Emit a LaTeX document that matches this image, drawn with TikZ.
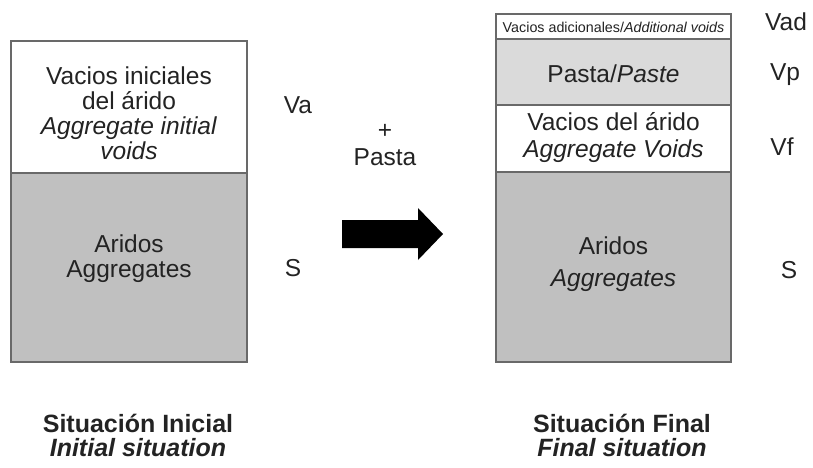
\documentclass[tikz,border=0pt]{standalone}
\usepackage{fontspec}
\setmainfont{Liberation Sans}
\definecolor{boxgray}{RGB}{192,192,192}
\definecolor{pastegray}{RGB}{218,218,218}
\definecolor{framegray}{RGB}{105,105,105}
\definecolor{txtgray}{RGB}{35,35,35}
\begin{document}
\begin{tikzpicture}[x=1pt, y=-1pt,
	every node/.style={text=txtgray, align=center, font=\fontsize{24.5}{25}\selectfont},
	layer/.style={draw=framegray, line width=1.6pt},
	title/.style={font=\fontsize{25}{24}\selectfont\bfseries}]
		\useasboundingbox (0,0) rectangle (813,468);

		% situacion inicial
		\draw[layer, fill=white] (11,41) rectangle (247,173);
		\draw[layer, fill=boxgray] (11,173) rectangle (247,362);
		\node (vacios) at (129,113) {Vacios iniciales\\del árido\\\textit{Aggregate initial}\\\textit{voids}};
		\node (aridos) at (129,259) {Aridos\\Aggregates};
		\node (va) at (298,105) {Va};
		\node (sini) at (293,268) {S};

		% flecha
		\node (plus) at (385,131) {+};
		\node (pasta) at (385,157) {Pasta};
		\fill[black] (342,220) -- (418,220) -- (418,208) -- (443,234) -- (418,260) -- (418,248) -- (342,248) -- cycle;

		% situacion final
		\draw[layer, fill=white] (496,14) rectangle (731,39);
		\draw[layer, fill=pastegray] (496,39) rectangle (731,105);
		\draw[layer, fill=white] (496,105) rectangle (731,172);
		\draw[layer, fill=boxgray] (496,172) rectangle (731,362);
		\node[font=\fontsize{14.3}{14}\selectfont] (adic) at (613.5,27) {Vacios adicionales/\textit{Additional voids}};
		\node (paste) at (613.5,74) {Pasta/\textit{Paste}};
		\node[font=\fontsize{24.5}{27}\selectfont] (vdel) at (613.5,138) {Vacios del árido\\\textit{Aggregate Voids}};
		\node[font=\fontsize{24.5}{32}\selectfont] (arfin) at (613.5,264) {Aridos\\\textit{Aggregates}};
		\node (vad) at (786,22) {Vad};
		\node (vp) at (785,75) {Vp};
		\node (vf) at (782,147) {Vf};
		\node (sfin) at (789,270) {S};

		\node[title] (ini) at (138,435) {Situación Inicial\\\textit{Initial situation}};
		\node[title] (fin) at (622,435) {Situación Final\\\textit{Final situation}};
	\end{tikzpicture}
\end{document}
